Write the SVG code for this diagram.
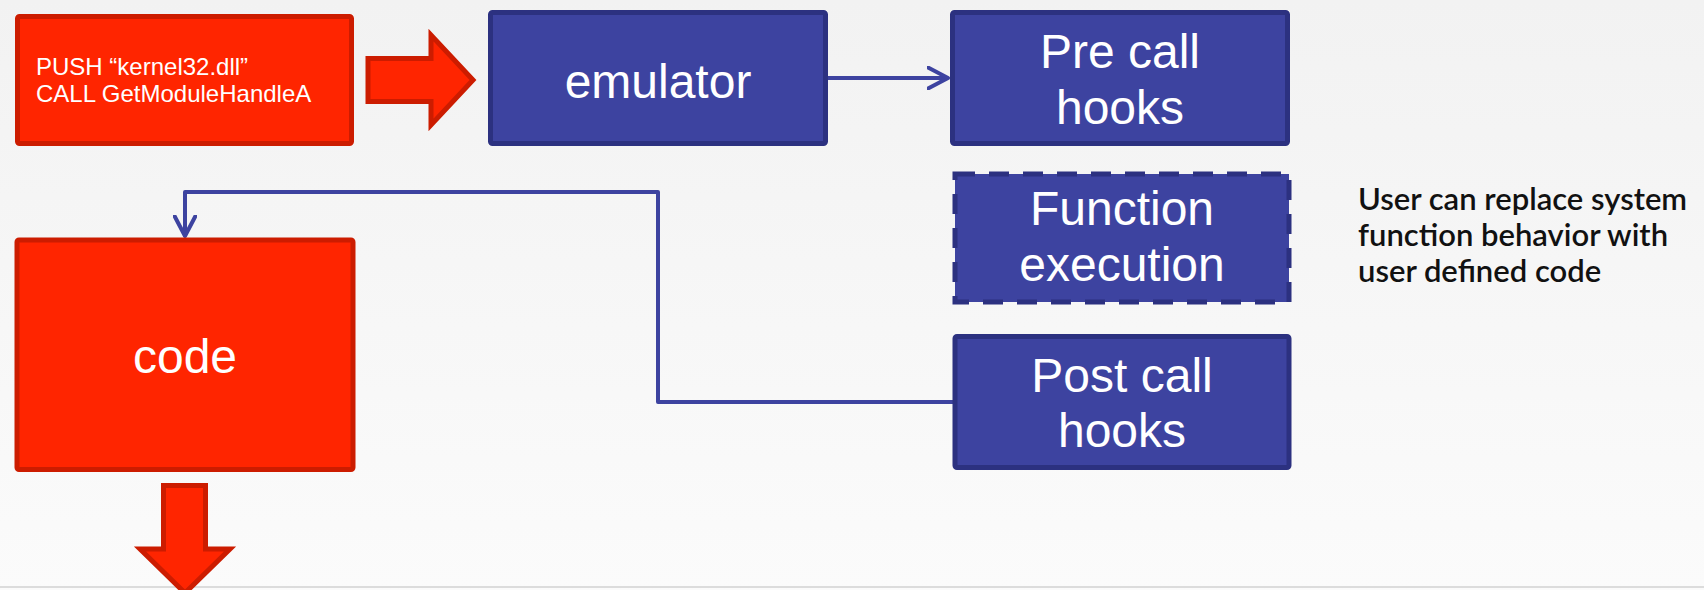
<svg xmlns="http://www.w3.org/2000/svg" width="1704" height="590" viewBox="0 0 1704 590">
  <defs>
    <linearGradient id="bg" x1="0" y1="0" x2="0" y2="1">
      <stop offset="0" stop-color="#f2f2f2"/>
      <stop offset="1" stop-color="#fbfbfb"/>
    </linearGradient>
    <marker id="chev" viewBox="0 0 24 24" markerWidth="24" markerHeight="24" refX="21" refY="12" orient="auto" markerUnits="userSpaceOnUse">
      <path d="M1,1.5 L21,12 L1,22.5" fill="none" stroke="#3d43a0" stroke-width="4" stroke-linecap="round" stroke-linejoin="round"/>
    </marker>
  </defs>
  <style>
    .red { fill: #ff2500; stroke: #cc1c00; stroke-width: 5; stroke-linejoin: miter; }
    .blue { fill: #3d43a0; stroke: #2c3180; stroke-width: 5; }
    .dash { stroke-dasharray: 20 14; }
    .lbl { font-family: "Liberation Sans", Arial, sans-serif; fill: #ffffff; text-anchor: middle; font-size: 48px; }
    .small { font-family: "Liberation Sans", Arial, sans-serif; fill: #ffffff; font-size: 24px; }
    .note { font-family: Lato, "Open Sans", sans-serif; font-weight: 600; fill: #111111; font-size: 31px; }
    .conn { fill: none; stroke: #3d43a0; stroke-width: 4; stroke-linejoin: round; }
  </style>

  <rect x="0" y="0" width="1704" height="590" fill="url(#bg)"/>
  <line x1="0" y1="587" x2="1704" y2="587" stroke="#dcdcdc" stroke-width="2"/>

  <g id="connectors">
    <path class="conn" d="M828,78 H948" marker-end="url(#chev)"/>
    <path class="conn" d="M953,402 H658 V192 H185 V236" marker-end="url(#chev)"/>
  </g>

  <g id="instr">
    <rect class="red" x="17.5" y="16.5" width="334" height="127" rx="2"/>
    <text class="small" x="36" y="75">PUSH “kernel32.dll”</text>
    <text class="small" x="36" y="102">CALL GetModuleHandleA</text>
  </g>

  <g id="arrow-right">
    <path class="red" d="M368,58.5 H431 V35 L473,80 L431,125 V101.5 H368 Z"/>
  </g>

  <g id="emulator">
    <rect class="blue" x="490.5" y="12.5" width="335" height="131" rx="2"/>
    <text class="lbl" x="658" y="98">emulator</text>
  </g>

  <g id="precall">
    <rect class="blue" x="952.5" y="12.5" width="335" height="131" rx="2"/>
    <text class="lbl" x="1120" y="68">Pre call</text>
    <text class="lbl" x="1120" y="124">hooks</text>
  </g>

  <g id="function">
    <rect class="blue dash" x="955" y="174" width="334" height="128"/>
    <text class="lbl" x="1122" y="225">Function</text>
    <text class="lbl" x="1122" y="281">execution</text>
  </g>

  <g id="note">
    <text class="note" x="1358" y="210">User can replace system</text>
    <text class="note" x="1358" y="246">function behavior with</text>
    <text class="note" x="1358" y="282">user defined code</text>
  </g>

  <g id="postcall">
    <rect class="blue" x="955" y="336.5" width="334" height="131" rx="2"/>
    <text class="lbl" x="1122" y="392">Post call</text>
    <text class="lbl" x="1122" y="447">hooks</text>
  </g>

  <g id="code">
    <rect class="red" x="17" y="240" width="336" height="229.5" rx="2"/>
    <text class="lbl" x="185" y="373">code</text>
  </g>

  <g id="arrow-down">
    <path class="red" d="M163.5,485.5 H205.5 V549 H230 L185,593 L140,549 H163.5 Z"/>
  </g>
</svg>
